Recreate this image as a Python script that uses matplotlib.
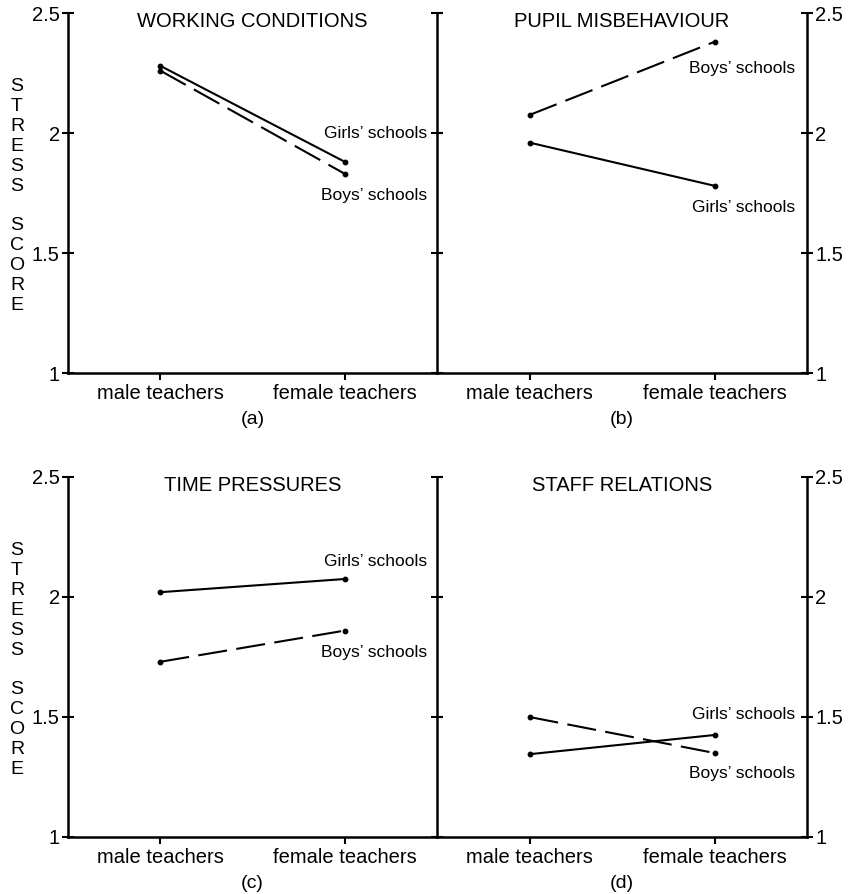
import matplotlib
matplotlib.use("Agg")
import matplotlib.pyplot as plt

plt.rcParams['font.family'] = ['Liberation Sans', 'DejaVu Sans']

categories = ["male teachers", "female teachers"]
titles = ["WORKING CONDITIONS", "PUPIL MISBEHAVIOUR", "TIME PRESSURES", "STAFF RELATIONS"]
panel_tags = ["(a)", "(b)", "(c)", "(d)"]
yticks = [1, 1.5, 2, 2.5]
ytick_labels = ["1", "1.5", "2", "2.5"]

girls = [[2.28, 1.88], [1.96, 1.78], [2.02, 2.075], [1.345, 1.425]]
boys = [[2.26, 1.83], [2.075, 2.38], [1.73, 1.86], [1.50, 1.35]]

# where the series names sit (y in data units)
girls_label_y = [2.00, 1.69, 2.15, 1.51]
boys_label_y = [1.74, 2.27, 1.77, 1.265]

W, H = 848, 894
fig = plt.figure(figsize=(W / 100, H / 100), dpi=100)

# axes boxes in pixels: (left, top, right, bottom)
boxes = [(68, 13, 437, 373), (437, 13, 807, 373),
         (68, 477, 437, 837), (437, 477, 807, 837)]

for i, (l, t, r, b) in enumerate(boxes):
    ax = fig.add_axes([l / W, 1 - b / H, (r - l) / W, (b - t) / H])
    ax.patch.set_visible(False)
    left_panel = i % 2 == 0
    x = range(len(categories))

    ax.plot(x, girls[i], color='black', lw=1.5, marker='o', ms=3.2)
    ax.plot(x, boys[i], color='black', lw=1.5, marker='o', ms=3.2, dashes=(14, 4.5))

    ax.set_xlim(-0.5, 1.5)
    ax.set_ylim(1, 2.5)
    ax.set_xticks(list(x))
    ax.set_xticklabels(categories, fontsize=14.5)
    ax.tick_params(axis='x', direction='out', length=5, width=1.5, pad=3)
    ax.set_yticks(yticks)
    ax.set_yticklabels(ytick_labels, fontsize=14.5)

    ax.spines['top'].set_visible(False)
    for s in ('left', 'right', 'bottom'):
        ax.spines[s].set_linewidth(1.8)

    if left_panel:
        ax.tick_params(axis='y', left=True, right=True, labelleft=True, labelright=False,
                       direction='inout', length=8, width=1.5, pad=2)
        lab_x = 1.446
    else:
        ax.spines['left'].set_visible(False)
        ax.tick_params(axis='y', left=False, right=True, labelleft=False, labelright=True,
                       direction='inout', length=8, width=1.5, pad=2)
        lab_x = 1.435

    ax.text(0.5, 0.962, titles[i], transform=ax.transAxes, ha='center', va='baseline',
            fontsize=14.5)
    ax.text(lab_x, girls_label_y[i], "Girls’ schools", ha='right', va='center', fontsize=12.5)
    ax.text(lab_x, boys_label_y[i], "Boys’ schools", ha='right', va='center', fontsize=12.5)
    ax.text(0.5, -0.13, panel_tags[i], transform=ax.transAxes, ha='center', va='center',
            fontsize=14)

    if left_panel:
        fig.text(17 / W, 1 - ((t + b) / 2 + 3) / H, "\n".join("STRESS") + "\n\n" + "\n".join("SCORE"),
                 ha='center', va='center', fontsize=14, linespacing=1.23)

fig.savefig("out.png", dpi=100)
